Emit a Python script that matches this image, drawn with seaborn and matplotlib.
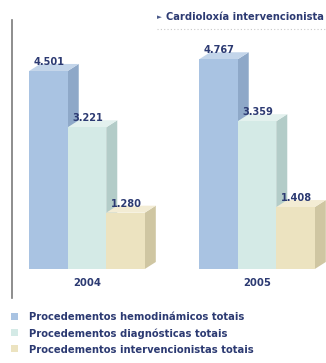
import matplotlib
matplotlib.use("Agg")
import matplotlib.pyplot as plt
from matplotlib.patches import Polygon
from matplotlib.lines import Line2D
import seaborn as sns
import pandas as pd

years = ["2004", "2005"]
series = ["Procedementos hemodinámicos totais",
          "Procedementos diagnósticas totais",
          "Procedementos intervencionistas totais"]
values = {
    series[0]: [4501, 4767],
    series[1]: [3221, 3359],
    series[2]: [1280, 1408],
}
title = "Cardioloxía intervencionista"

front = ["#a9c3e2", "#d4eae6", "#ece3c0"]
side = ["#8ea8c8", "#b3ccc8", "#cfc6a2"]
top = ["#c3d5ea", "#e3f1ee", "#f3ecd4"]
navy = "#2c3a72"

sns.set_style("white")
plt.rcParams["font.family"] = ["DejaVu Sans"]
plt.rcParams["font.stretch"] = "condensed"

rows = []
for s in series:
    for y, v in zip(years, values[s]):
        rows.append({"year": y, "serie": s, "value": v})
df = pd.DataFrame(rows)

W, H = 326, 363
fig = plt.figure(figsize=(W / 100, H / 100), dpi=100)
ax = fig.add_axes([12 / W, (H - 298) / H, (W - 12) / W, (298 - 20) / H])

sns.barplot(data=df, x="year", y="value", hue="serie", hue_order=series,
            palette=front, saturation=1, width=0.68, ax=ax, legend=True,
            edgecolor="none", linewidth=0)

ppu = 44 / 1000.0
ax.set_ylim(-(298 - 269) / ppu, (269 - 20) / ppu)
ax.set_xlim(-(87 - 12) / 170, 1 + (326 - 257) / 170)

dx = 11 / 170
dy = 7 / ppu

for i, cont in enumerate(ax.containers):
    for bar in cont:
        x0 = bar.get_x()
        w = bar.get_width()
        h = bar.get_height()
        x1 = x0 + w
        bar.set_zorder(3 + 3 * i)
        ax.add_patch(Polygon([(x1, 0), (x1 + dx, dy), (x1 + dx, h + dy), (x1, h)],
                             closed=True, facecolor=side[i], edgecolor="none",
                             zorder=2 + 3 * i))
        ax.add_patch(Polygon([(x0, h), (x0 + dx, h + dy), (x1 + dx, h + dy), (x1, h)],
                             closed=True, facecolor=top[i], edgecolor="none",
                             zorder=2 + 3 * i))
        ax.text(x0 + w / 2 + 0.005, h + 0.55 * dy, f"{int(h):,}".replace(",", "."),
                ha="center", va="bottom", fontsize=7.8, fontweight="bold",
                color=navy, zorder=20)

for s in ["top", "right", "bottom"]:
    ax.spines[s].set_visible(False)
ax.spines["left"].set_color("#7a7a7a")
ax.spines["left"].set_linewidth(1.2)
ax.set_yticks([])
ax.set_xlabel("")
ax.set_ylabel("")
ax.tick_params(axis="x", length=0, pad=-14.5, labelsize=8, labelcolor=navy)
for lbl in ax.get_xticklabels():
    lbl.set_fontweight("bold")

leg = ax.legend(loc="upper left", bbox_to_anchor=(11 / W, (H - 312) / H),
                bbox_transform=fig.transFigure, frameon=False, fontsize=8,
                handlelength=0.6, handleheight=0.6, handletextpad=1.0,
                labelspacing=0.55, borderaxespad=0, borderpad=0)
for t in leg.get_texts():
    t.set_color(navy)
    t.set_fontweight("bold")

fig.text(157 / W, 1 - 17 / H, "►", ha="left", va="center", fontsize=5,
         color="#4a5a8a", family=["DejaVu Sans"])
fig.text(166 / W, 1 - 17 / H, title, ha="left", va="center", fontsize=7.9,
         fontweight="bold", color=navy)
fig.add_artist(Line2D([157 / W, 1], [1 - 29 / H, 1 - 29 / H],
                      transform=fig.transFigure, color="#c8c8c8",
                      lw=0.8, ls=(0, (1, 2))))

fig.savefig("out.png", dpi=100)
